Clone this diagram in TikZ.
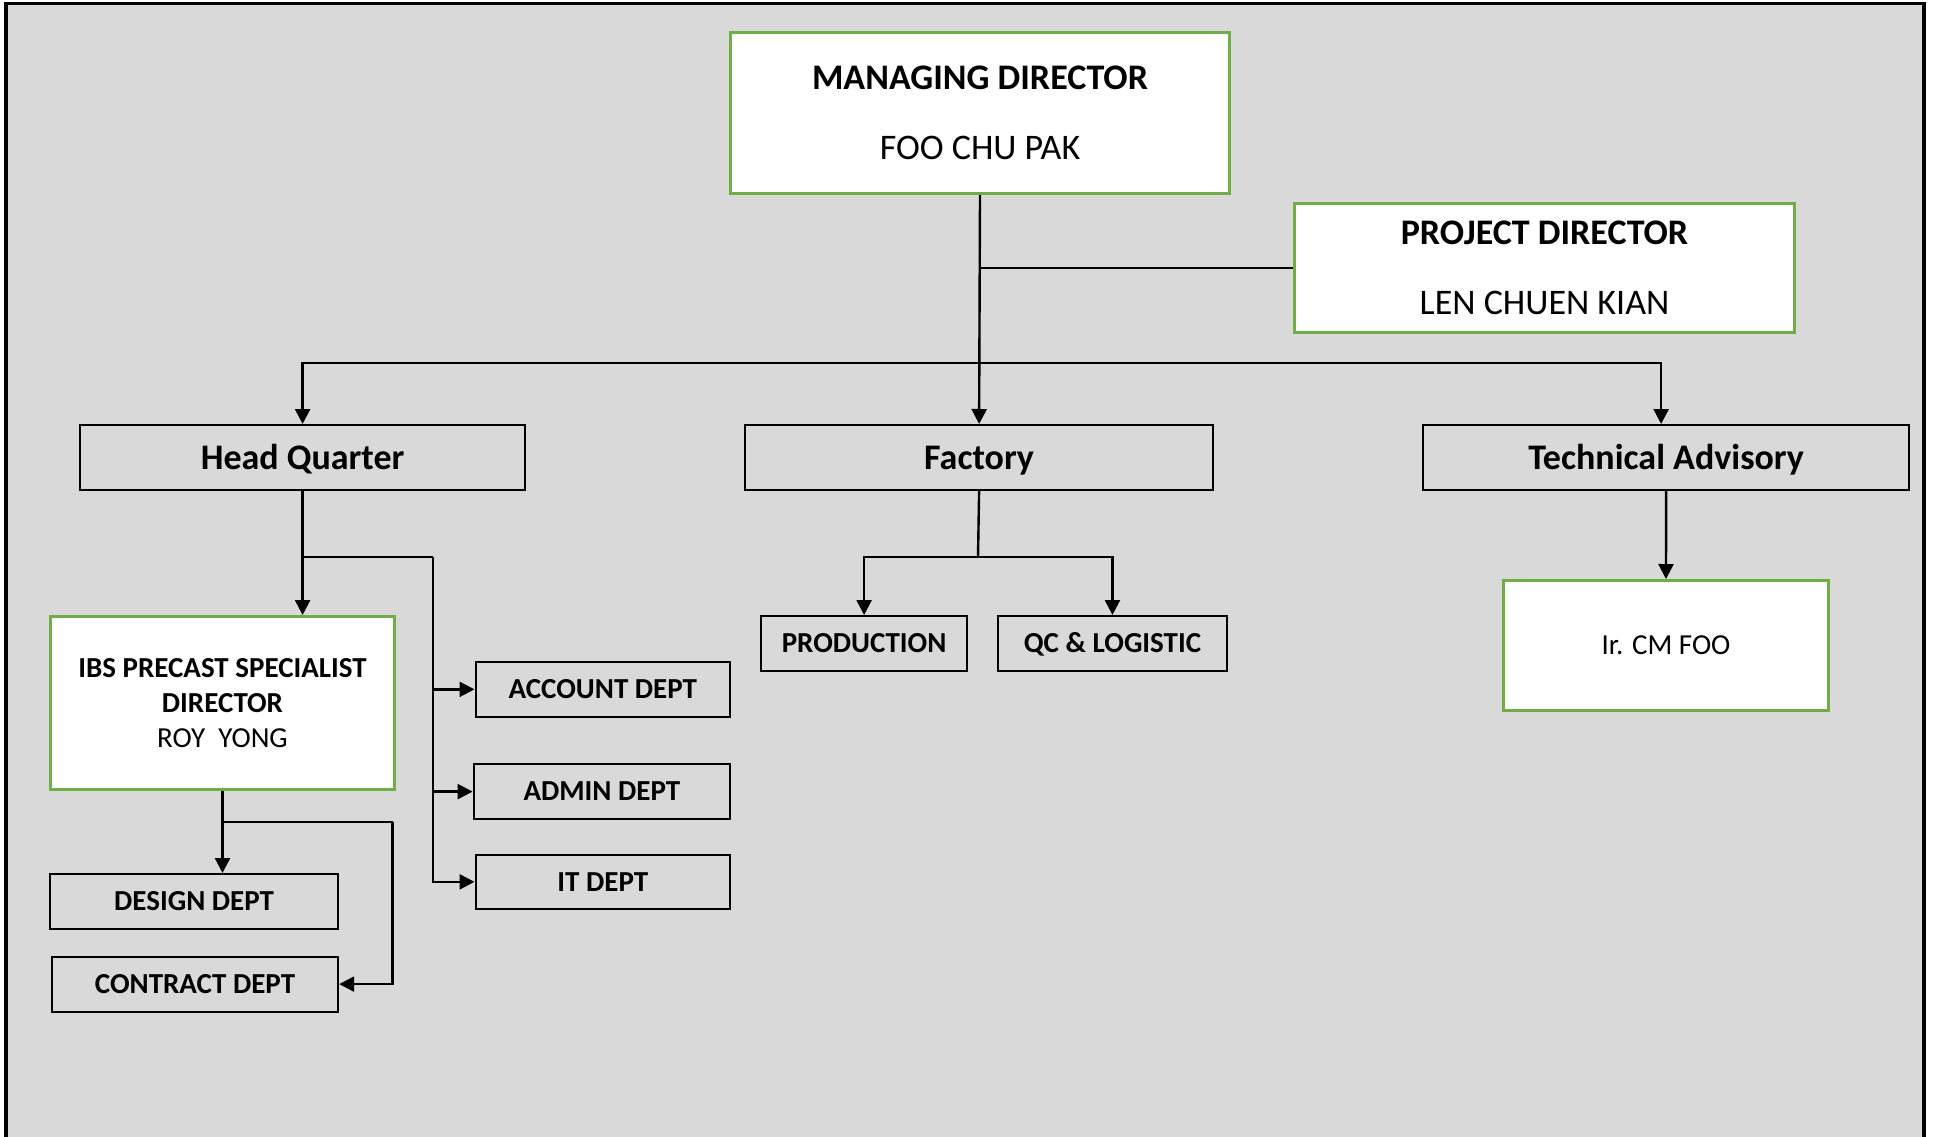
\documentclass[tikz,border=0pt]{standalone}
\usepackage{fontspec}
\setmainfont{Carlito}
\usetikzlibrary{arrows.meta}
\definecolor{bggray}{HTML}{D9D9D9}
\definecolor{boxgreen}{HTML}{70AD47}
\begin{document}
\begin{tikzpicture}[x=1pt,y=-1pt,
  greenbox/.style={draw=boxgreen, line width=3pt, fill=white, inner sep=0pt, align=center, anchor=north west},
  greybox/.style={draw=black, line width=2.2pt, inner sep=0pt, align=center, anchor=north west},
  bigfont/.style={font=\fontsize{36}{70}\selectfont},
  bigbold/.style={font=\fontsize{36}{70}\selectfont\bfseries, text height=24pt, text depth=0pt},
  smallfont/.style={font=\fontsize{29}{35}\selectfont\bfseries, text height=18.5pt, text depth=0pt},
  conn/.style={draw=black, line width=2.4pt},
  arr/.style={conn, -{Triangle[width=15pt,length=15pt]}}]
\useasboundingbox (0,0) rectangle (1933,1137);
\fill[white] (0,0) rectangle (1933,1137);
\filldraw[fill=bggray, draw=black, line width=3.5pt] (6,3.6) rectangle (1924,1160);

% top level
\node[greenbox, bigfont, minimum width=499pt, minimum height=160.5pt] (md) at (729,31.5)
  {\textbf{MANAGING DIRECTOR}\\FOO CHU PAK};
\node[greenbox, bigfont, minimum width=500pt, minimum height=129.5pt] (pd) at (1293,201.5)
  {\textbf{PROJECT DIRECTOR}\\LEN CHUEN KIAN};

% second level
\node[greybox, bigbold, minimum width=445pt, minimum height=65pt] (hq) at (79,424) {Head Quarter};
\node[greybox, bigbold, minimum width=468pt, minimum height=65pt] (fac) at (744,424) {Factory};
\node[greybox, bigbold, minimum width=486pt, minimum height=65pt] (tech) at (1422,424) {Technical Advisory};

% head quarter children
\node[greenbox, font=\fontsize{29}{35}\selectfont, minimum width=344pt, minimum height=173pt] (ibs) at (49,615)
  {\textbf{IBS PRECAST SPECIALIST}\\\textbf{DIRECTOR}\\ROY\ \ YONG};
\node[greybox, smallfont, minimum width=254.5pt, minimum height=55.5pt] (acc) at (474.5,660.5) {ACCOUNT DEPT};
\node[greybox, smallfont, minimum width=256.4pt, minimum height=55pt] (adm) at (472.6,763) {ADMIN DEPT};
\node[greybox, smallfont, minimum width=254.5pt, minimum height=54.5pt] (it) at (474.5,853.5) {IT DEPT};
\node[greybox, smallfont, minimum width=288pt, minimum height=55pt] (des) at (49,873) {DESIGN DEPT};
\node[greybox, smallfont, minimum width=286pt, minimum height=55pt] (con) at (51,955.5) {CONTRACT DEPT};

% factory children
\node[greybox, smallfont, minimum width=206pt, minimum height=55pt] (prod) at (760,615) {PRODUCTION};
\node[greybox, smallfont, minimum width=229.3pt, minimum height=55pt] (qc) at (996.7,615) {QC \& LOGISTIC};

% technical advisory child
\node[greenbox, font=\fontsize{29}{35}\selectfont, minimum width=325pt, minimum height=130pt] (ir) at (1502,579) {Ir. CM FOO};

% junction coordinates
\coordinate (bus) at (978,363);
\coordinate (hqb) at (433,557);
\coordinate (ibsr) at (392.5,822);
\coordinate (facb) at (978,557);

% connectors
\draw[arr] (md.south) -- (fac.north);
\draw[conn] (md.south |- pd.west) -- (pd.west);
\draw[arr] (md.south |- bus) -| (hq.north);
\draw[arr] (md.south |- bus) -| ([xshift=-5pt]tech.north);

\draw[arr] (hq.south) -- (hq.south |- ibs.north);
\draw[conn] (hq.south |- hqb) -- (hqb);
\draw[arr] (hqb) |- (it.west);
\draw[arr] (hqb |- acc.west) -- (acc.west);
\draw[arr] (hqb |- adm.west) -- (adm.west);

\draw[arr] (ibs.south) -- (ibs.south |- des.north);
\draw[conn] (ibs.south |- ibsr) -- (ibsr);
\draw[arr] (ibsr) |- (con.east);

\draw[conn] (fac.south) -- (facb);
\draw[arr] (facb) -| (prod.north);
\draw[arr] (facb) -| (qc.north);

\draw[arr] (tech.south) -- (ir.north);
\end{tikzpicture}
\end{document}
